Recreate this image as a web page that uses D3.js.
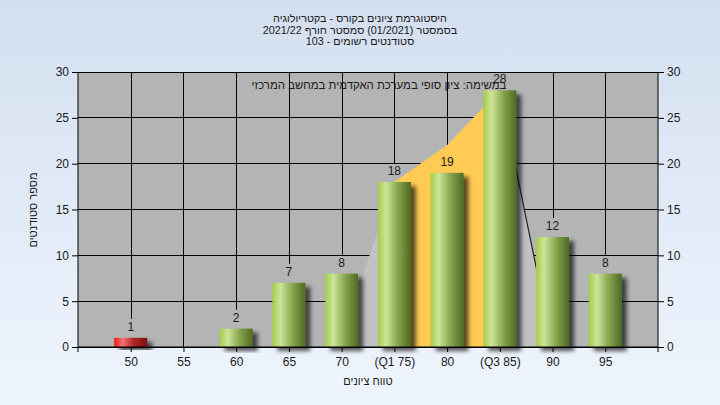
<!DOCTYPE html>
<html><head><meta charset="utf-8">
<script src="https://cdn.jsdelivr.net/npm/d3@7"></script>
<style>html,body{margin:0;padding:0;}svg{display:block;font-family:"Liberation Sans",Arial,sans-serif;}</style>
</head><body>
<svg id="c" width="720" height="405"></svg>
<script>
const grades = [50,55,60,65,70,75,80,85,90,95];
const tickLabels = ["50","55","60","65","70","(Q1 75)","80","(Q3 85)","90","95"];
const counts = [1,0,2,7,8,18,19,28,12,8];
const failFlags = [true,false,false,false,false,false,false,false,false,false];
const overlayGrades = [70,75,80,85,90];
const overlayValues = [1,18,22,28,0];
const yTicks = [0,5,10,15,20,25,30];
const titleLines = ["היסטוגרמת ציונים בקורס - בקטריולוגיה","בסמסטר  (01/2021)  סמסטר חורף 2021/22","סטודנטים רשומים - 103"];
const noteText = "במשימה: ציון סופי במערכת האקדמית במחשב המרכזי";
const yTitle = "מספר סטודנטים";
const xTitle = "טווח ציונים";

const svg = d3.select("#c");
const defs = svg.append("defs");
const bg = defs.append("linearGradient").attr("id","bg").attr("x1",0).attr("y1",0).attr("x2",0).attr("y2",1);
bg.append("stop").attr("offset","0%").attr("stop-color","#d3dff0");
bg.append("stop").attr("offset","100%").attr("stop-color","#eff5fe");
function barGrad(id, c0, c1, c2, c3){
  const g = defs.append("linearGradient").attr("id",id).attr("x1",0).attr("y1",0).attr("x2",1).attr("y2",0);
  g.append("stop").attr("offset","0%").attr("stop-color",c0);
  g.append("stop").attr("offset","25%").attr("stop-color",c1);
  g.append("stop").attr("offset","60%").attr("stop-color",c2);
  g.append("stop").attr("offset","100%").attr("stop-color",c3);
}
barGrad("gG","#a4cd48","#cde59a","#87a64d","#4e6a25");
barGrad("gR","#f01818","#f57070","#b02424","#7a1010");
const f = defs.append("filter").attr("id","sh").attr("x","-30%").attr("y","-30%").attr("width","180%").attr("height","160%");
f.append("feDropShadow").attr("dx",5).attr("dy",4).attr("stdDeviation",2.2).attr("flood-color","#000").attr("flood-opacity",0.65);

svg.append("rect").attr("width",720).attr("height",405).attr("fill","url(#bg)");

const x = d3.scaleLinear().domain([45,100]).range([78,658]);
const y = d3.scaleLinear().domain([0,30]).range([347,72]);

svg.append("rect").attr("x",x(45)).attr("y",y(30)).attr("width",x(100)-x(45)).attr("height",y(0)-y(30)).attr("fill","#b4b4b4");

svg.append("g").selectAll("line").data(yTicks).join("line")
  .attr("x1",x(45)).attr("x2",x(100)).attr("y1",d=>y(d)).attr("y2",d=>y(d))
  .attr("stroke","#000").attr("stroke-width",1).attr("shape-rendering","crispEdges");
svg.append("g").selectAll("line").data(grades).join("line")
  .attr("x1",d=>Math.round(x(d))+0.5).attr("x2",d=>Math.round(x(d))+0.5)
  .attr("y1",y(30))
  .attr("y2",(d,i)=>counts[i]>0 ? Math.max(y(30), y(counts[i])-19) : y(0))
  .attr("stroke","#000").attr("stroke-width",1);

const ov = overlayGrades.map((g,i)=>[g,overlayValues[i]]);
const area = d3.area().x(d=>x(d[0])).y0(y(0)).y1(d=>y(d[1]));
svg.append("path").datum(ov).attr("d",area).attr("fill","#c1c1c1");
svg.append("path").datum(ov.filter(d=>d[0]>=75&&d[0]<=85)).attr("d",area).attr("fill","#ffcb55");
svg.append("path").datum(ov.filter(d=>d[0]>=85)).attr("d",d3.line().x(d=>x(d[0])).y(d=>y(d[1])))
  .attr("fill","none").attr("stroke","#222").attr("stroke-width",1.2);

const bw = 33;
svg.append("g").selectAll("rect").data(grades.map((g,i)=>({g,v:counts[i],f:failFlags[i]})).filter(d=>d.v>0)).join("rect")
  .attr("x",d=>x(d.g)-bw/2).attr("width",bw)
  .attr("y",d=>y(d.v)).attr("height",d=>y(0)-y(d.v))
  .attr("fill",d=>d.f?"url(#gR)":"url(#gG)").attr("filter","url(#sh)");

const axL = d3.axisLeft(y).tickValues(yTicks).tickSize(6).tickPadding(3);
const axR = d3.axisRight(y).tickValues(yTicks).tickSize(6).tickPadding(3);
const axB = d3.axisBottom(x).tickValues(grades).tickFormat((d,i)=>tickLabels[i]).tickSize(5).tickPadding(5);
function style(g){
  g.selectAll("path").attr("stroke","#000");
  g.selectAll("line").attr("stroke","#000");
  g.selectAll("text").attr("fill","#1a1a1a").attr("font-size",12).attr("font-family","'Liberation Sans',Arial,sans-serif");
}
svg.append("g").attr("transform",`translate(${x(45)},0)`).call(axL).call(style).select(".domain").attr("d",`M0,${y(30)}V${y(0)+5}`);
svg.append("g").attr("transform",`translate(${x(100)},0)`).call(axR).call(style).select(".domain").attr("d",`M0,${y(30)}V${y(0)+5}`);
svg.append("g").attr("transform",`translate(0,${y(0)})`).call(axB).call(style).select(".domain").attr("d",`M${x(45)},0H${x(100)}`);

svg.append("g").selectAll("text").data(grades.map((g,i)=>({g,v:counts[i]})).filter(d=>d.v>0)).join("text")
  .attr("x",d=>x(d.g)).attr("y",d=>y(d.v)-7).attr("text-anchor","middle")
  .attr("font-size",12).attr("fill","#1a1a1a").text(d=>d.v);

svg.append("text").attr("x",379).attr("y",89).attr("text-anchor","middle").attr("direction","rtl")
  .attr("font-size",11.4).attr("fill","#1a1a1a").text(noteText);

svg.append("g").selectAll("text").data(titleLines).join("text")
  .attr("x",360).attr("y",(d,i)=>22+i*11.5).attr("text-anchor","middle").attr("direction","rtl")
  .attr("font-size",10.8).attr("fill","#1a1a1a").text(d=>d);

svg.append("text").attr("transform","translate(37,210) rotate(-90)").attr("text-anchor","middle").attr("direction","rtl")
  .attr("font-size",11).attr("fill","#1a1a1a").text(yTitle);
svg.append("text").attr("x",368).attr("y",385).attr("text-anchor","middle").attr("direction","rtl")
  .attr("font-size",11).attr("fill","#1a1a1a").text(xTitle);
</script>
</body></html>
